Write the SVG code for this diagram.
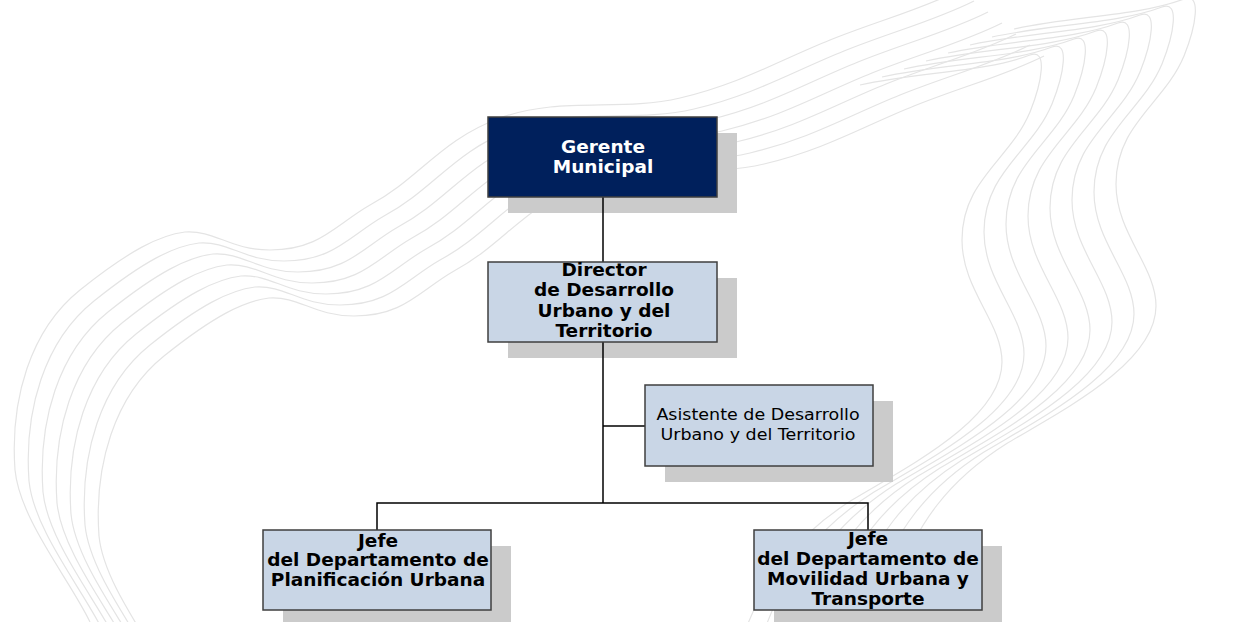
<svg xmlns="http://www.w3.org/2000/svg" xmlns:xlink="http://www.w3.org/1999/xlink" width="1236" height="622" viewBox="0 0 1236 622">
  <style>
    .wave { fill: none; stroke: #e4e4e4; stroke-width: 1.2; }
    .shadow { fill: #cbcbcb; }
    .box { fill: #c9d6e6; stroke: #3f3f3f; stroke-width: 1.5; }
    .box-dark { fill: #00205c; stroke: #3f3f3f; stroke-width: 1.5; }
    .link { fill: none; stroke: #000; stroke-width: 1.5; }
    .t { font-family: "DejaVu Sans", Verdana, sans-serif; font-size: 17px; text-anchor: middle; fill: #000; }
    .b { font-weight: bold; }
    .n { font-size: 16.5px; }
    .w { fill: #fff; }
  </style>
  <defs>
    <!-- left sweep: rises from the bottom-left, runs across the top to the right edge -->
    <path id="sweepA" d="M 90 622 C 70 580 20 520 15 470 C 10 400 30 330 80 290 C 130 250 160 235 185 232 C 215 230 230 250 270 250 C 320 250 335 225 370 205 C 420 178 440 140 500 118 C 560 96 620 112 680 98 C 740 84 780 60 830 40 C 880 20 920 10 960 -10"/>
    <!-- right sweep: hooks at the top right and falls to the bottom centre -->
    <path id="sweepB" d="M 860 85 C 920 72 985 72 1030 55 C 1048 48 1042 82 1030 112 C 1010 160 962 180 962 240 C 962 290 1002 322 1002 362 C 1002 420 905 468 852 500 C 795 536 762 580 742 640"/>
  </defs>

  <!-- background line work -->
  <g id="background">
    <use xlink:href="#sweepA" class="wave"/>
    <use xlink:href="#sweepA" class="wave" transform="translate(14 11)"/>
    <use xlink:href="#sweepA" class="wave" transform="translate(28 22)"/>
    <use xlink:href="#sweepA" class="wave" transform="translate(42 33)"/>
    <use xlink:href="#sweepA" class="wave" transform="translate(56 44)"/>
    <use xlink:href="#sweepA" class="wave" transform="translate(70 55)"/>
    <use xlink:href="#sweepA" class="wave" transform="translate(84 66)"/>
    <use xlink:href="#sweepB" class="wave"/>
    <use xlink:href="#sweepB" class="wave" transform="translate(22 -8)"/>
    <use xlink:href="#sweepB" class="wave" transform="translate(44 -16)"/>
    <use xlink:href="#sweepB" class="wave" transform="translate(66 -24)"/>
    <use xlink:href="#sweepB" class="wave" transform="translate(88 -32)"/>
    <use xlink:href="#sweepB" class="wave" transform="translate(110 -40)"/>
    <use xlink:href="#sweepB" class="wave" transform="translate(132 -48)"/>
    <use xlink:href="#sweepB" class="wave" transform="translate(154 -56)"/>
  </g>

  <!-- drop shadows -->
  <g id="shadows">
    <rect class="shadow" x="508" y="133" width="229" height="80"/>
    <rect class="shadow" x="508" y="278" width="229" height="80"/>
    <rect class="shadow" x="665" y="401" width="228" height="81"/>
    <rect class="shadow" x="283" y="546" width="228" height="80"/>
    <rect class="shadow" x="774" y="546" width="228" height="80"/>
  </g>

  <!-- connectors -->
  <g id="connectors">
    <path class="link" d="M 603 197 V 262"/>
    <path class="link" d="M 603 342 V 503"/>
    <path class="link" d="M 603 426 H 645"/>
    <path class="link" d="M 377 530 V 503 H 868 V 530"/>
  </g>

  <g id="gerente">
    <rect class="box-dark" x="488" y="117" width="229" height="80"/>
    <text class="t b w" transform="translate(603 0) scale(1.09 1)"><tspan x="0" y="153">Gerente</tspan><tspan x="0" y="173">Municipal</tspan></text>
  </g>

  <g id="director">
    <rect class="box" x="488" y="262" width="229" height="80"/>
    <text class="t b" transform="translate(604 0) scale(1.09 1)"><tspan x="0" y="276">Director</tspan><tspan x="0" y="296.5">de Desarrollo</tspan><tspan x="0" y="317">Urbano y del</tspan><tspan x="0" y="337.5">Territorio</tspan></text>
  </g>

  <g id="asistente">
    <rect class="box" x="645" y="385" width="228" height="81"/>
    <text class="t n" transform="translate(758 0) scale(1.06 1)"><tspan x="0" y="420">Asistente de Desarrollo</tspan><tspan x="0" y="440">Urbano y del Territorio</tspan></text>
  </g>

  <g id="jefe-planificacion">
    <rect class="box" x="263" y="530" width="228" height="80"/>
    <text class="t b" transform="translate(378 0) scale(1.09 1)"><tspan x="0" y="547">Jefe</tspan><tspan x="0" y="566.5">del Departamento de</tspan><tspan x="0" y="586">Planificación Urbana</tspan></text>
  </g>

  <g id="jefe-movilidad">
    <rect class="box" x="754" y="530" width="228" height="80"/>
    <text class="t b" transform="translate(868 0) scale(1.09 1)"><tspan x="0" y="545">Jefe</tspan><tspan x="0" y="565">del Departamento de</tspan><tspan x="0" y="585">Movilidad Urbana y</tspan><tspan x="0" y="605">Transporte</tspan></text>
  </g>
</svg>
